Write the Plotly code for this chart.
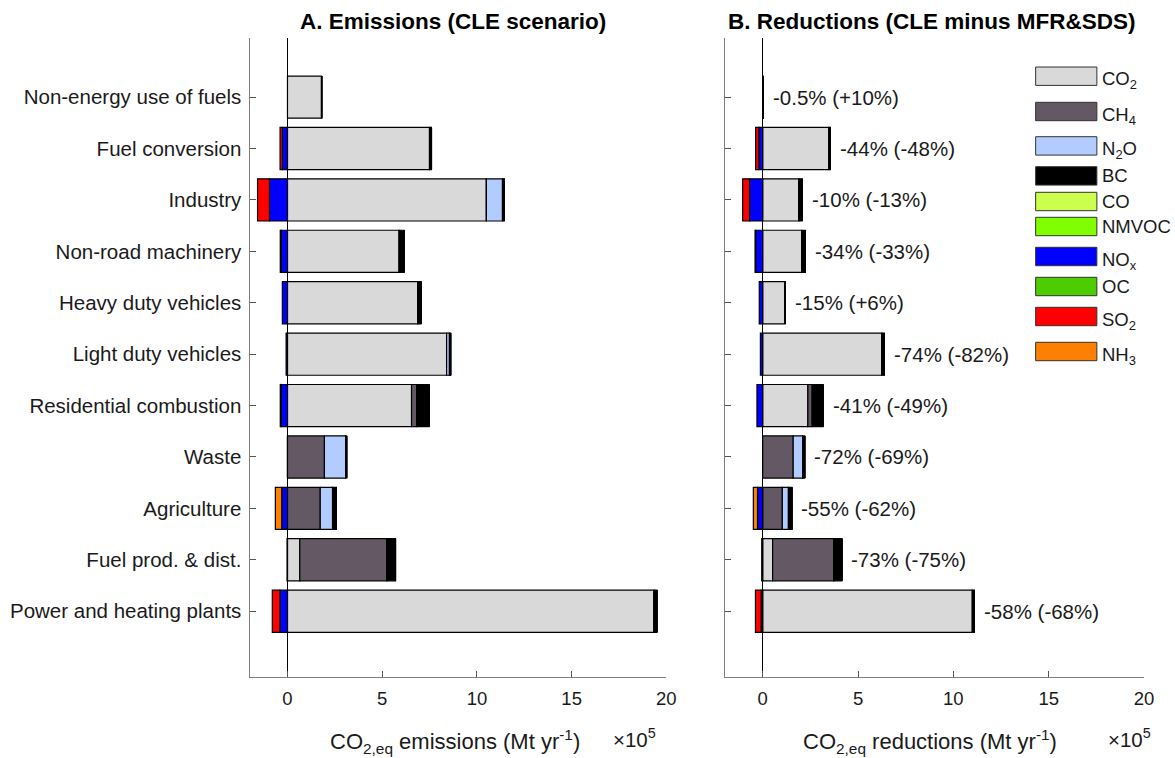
import plotly.graph_objects as go

W, H = 1175, 758

# categories bottom -> top
categories = ["Power and heating plants", "Fuel prod. & dist.", "Agriculture", "Waste",
              "Residential combustion", "Light duty vehicles", "Heavy duty vehicles",
              "Non-road machinery", "Industry", "Fuel conversion", "Non-energy use of fuels"]

species = ["CO2", "CH4", "N2O", "BC", "CO", "NMVOC", "NOx", "OC", "SO2", "NH3"]
species_labels = ["CO<sub>2</sub>", "CH<sub>4</sub>", "N<sub>2</sub>O", "BC", "CO", "NMVOC",
                  "NO<sub>x</sub>", "OC", "SO<sub>2</sub>", "NH<sub>3</sub>"]
colors = ["#d9d9d9", "#635863", "#b3ccff", "#000000", "#ccff4d", "#80ff00",
          "#0000ff", "#4dcc00", "#ff0000", "#ff8000"]

# Panel A: emissions (CLE), units 1e5 Mt/yr, order = categories
A_CO2 = [19.35, 0.65, 0.0, 0.0, 6.55, 8.40, 6.88, 5.90, 10.50, 7.50, 1.80]
A_CH4 = [0.0, 4.60, 1.73, 1.95, 0.27, 0.0, 0.0, 0.0, 0.0, 0.0, 0.0]
A_N2O = [0.0, 0.0, 0.65, 1.12, 0.0, 0.15, 0.0, 0.0, 0.85, 0.0, 0.0]
A_BC = [0.15, 0.45, 0.20, 0.05, 0.65, 0.06, 0.17, 0.25, 0.10, 0.10, 0.0]
A_CO = [0.0] * 11
A_NMVOC = [0.0] * 11
A_NOx = [-0.40, 0.0, -0.30, 0.0, -0.33, -0.07, -0.27, -0.33, -0.95, -0.27, 0.0]
A_OC = [0.0] * 11
A_SO2 = [-0.40, -0.02, 0.0, 0.0, -0.05, 0.0, 0.0, -0.05, -0.63, -0.12, 0.0]
A_NH3 = [0.0, 0.0, -0.34, 0.0, 0.0, 0.0, 0.0, 0.0, 0.0, 0.0, 0.0]

# Panel B: reductions (CLE minus MFR&SDS)
B_CO2 = [11.00, 0.52, 0.0, 0.0, 2.37, 6.25, 1.18, 2.05, 1.90, 3.48, 0.03]
B_CH4 = [0.0, 3.21, 1.03, 1.60, 0.23, 0.0, 0.0, 0.0, 0.0, 0.0, 0.0]
B_N2O = [0.0, 0.0, 0.32, 0.50, 0.0, 0.0, 0.0, 0.0, 0.0, 0.0, 0.0]
B_BC = [0.10, 0.42, 0.18, 0.10, 0.56, 0.13, 0.0, 0.18, 0.17, 0.07, 0.0]
B_CO = [0.0] * 11
B_NMVOC = [0.0] * 11
B_NOx = [-0.08, -0.05, -0.27, 0.0, -0.30, -0.12, -0.18, -0.37, -0.69, -0.20, 0.0]
B_OC = [0.0] * 11
B_SO2 = [-0.30, 0.0, 0.0, 0.0, 0.0, 0.0, 0.0, -0.03, -0.36, -0.17, 0.0]
B_NH3 = [0.0, 0.0, -0.22, 0.0, 0.0, 0.0, 0.0, 0.0, 0.0, 0.0, 0.0]

B_labels = ["-58% (-68%)", "-73% (-75%)", "-55% (-62%)", "-72% (-69%)", "-41% (-49%)",
            "-74% (-82%)", "-15% (+6%)", "-34% (-33%)", "-10% (-13%)", "-44% (-48%)",
            "-0.5% (+10%)"]

x_ticks = [0, 5, 10, 15, 20]

A_data = [A_CO2, A_CH4, A_N2O, A_BC, A_CO, A_NMVOC, A_NOx, A_OC, A_SO2, A_NH3]
B_data = [B_CO2, B_CH4, B_N2O, B_BC, B_CO, B_NMVOC, B_NOx, B_OC, B_SO2, B_NH3]

FONT = "Liberation Sans, Arial, sans-serif"
TXT = "#1a1a1a"

def px(x):
    # horizontal pixel position -> paper fraction (with small empirical correction)
    return ((x - 2) / 0.988) / W

def py(y):
    return 1 - y / H

fig = go.Figure()
for i, sp in enumerate(species):
    fig.add_trace(go.Bar(y=categories, x=A_data[i], orientation="h", name=sp,
                         marker=dict(color=colors[i], line=dict(color="black", width=1.2)),
                         width=0.82, xaxis="x", yaxis="y", showlegend=False))
    fig.add_trace(go.Bar(y=categories, x=B_data[i], orientation="h", name=sp,
                         marker=dict(color=colors[i], line=dict(color="black", width=1.2)),
                         width=0.82, xaxis="x2", yaxis="y2", showlegend=False))

ydom = [py(677), py(38)]
yrange = [-1.28, 11.15]
axis_common = dict(showline=True, linecolor="#7f7f7f", linewidth=1.3, ticks="inside",
                   ticklen=6, tickcolor="#555555", showgrid=False,
                   tickfont=dict(family=FONT, size=18.5, color=TXT))
xcommon = dict(axis_common, range=[-2, 20], tickvals=x_ticks, zeroline=True,
               zerolinecolor="black", zerolinewidth=1, ticklabelstandoff=5)

fig.update_layout(
    width=W, height=H, margin=dict(l=0, r=0, t=0, b=0),
    paper_bgcolor="white", plot_bgcolor="white", barmode="relative",
    xaxis=dict(xcommon, domain=[px(250.7), px(666)], anchor="y"),
    xaxis2=dict(xcommon, domain=[px(724), px(1142)], anchor="y2"),
    yaxis=dict(axis_common, domain=ydom, range=yrange, type="category",
               categoryorder="array", categoryarray=categories, anchor="x",
               tickfont=dict(family=FONT, size=20.5, color=TXT), ticklabelstandoff=3),
    yaxis2=dict(axis_common, domain=ydom, range=yrange, type="category",
                categoryorder="array", categoryarray=categories, anchor="x2",
                showticklabels=False),
)

ann = []
# Percent labels in panel B
for i, cat in enumerate(categories):
    pos = sum(max(d[i], 0) for d in B_data)
    ann.append(dict(x=pos + 0.4, y=cat, xref="x2", yref="y2", text=B_labels[i],
                    xanchor="left", yanchor="middle", showarrow=False,
                    font=dict(family=FONT, size=20.5, color=TXT)))

# Titles
ann.append(dict(x=px(453), y=py(22), xref="paper", yref="paper",
                text="<b>A. Emissions (CLE scenario)</b>", showarrow=False,
                xanchor="center", yanchor="middle", font=dict(family=FONT, size=22.5, color="black")))
ann.append(dict(x=px(931), y=py(22), xref="paper", yref="paper",
                text="<b>B. Reductions (CLE minus MFR&SDS)</b>", showarrow=False,
                xanchor="center", yanchor="middle", font=dict(family=FONT, size=22.5, color="black")))

# Axis titles
ann.append(dict(x=px(455), y=py(741), xref="paper", yref="paper",
                text="CO<sub>2,eq</sub> emissions (Mt yr<sup>-1</sup>)", showarrow=False,
                xanchor="center", yanchor="middle", font=dict(family=FONT, size=22, color=TXT)))
ann.append(dict(x=px(929), y=py(741), xref="paper", yref="paper",
                text="CO<sub>2,eq</sub> reductions (Mt yr<sup>-1</sup>)", showarrow=False,
                xanchor="center", yanchor="middle", font=dict(family=FONT, size=22, color=TXT)))
ann.append(dict(x=px(611), y=py(738), xref="paper", yref="paper",
                text="\u00d710<sup>5</sup>", showarrow=False,
                xanchor="left", yanchor="middle", font=dict(family=FONT, size=20.5, color=TXT)))
ann.append(dict(x=px(1104), y=py(738), xref="paper", yref="paper",
                text="\u00d710<sup>5</sup>", showarrow=False,
                xanchor="left", yanchor="middle", font=dict(family=FONT, size=20.5, color=TXT)))

# Custom legend
leg_tops = [67, 102.3, 136.7, 166.7, 192.3, 217.3, 247.3, 277.3, 307.3, 342.3]
shapes = []
for i, sp in enumerate(species):
    t = leg_tops[i]
    shapes.append(dict(type="rect", xref="paper", yref="paper",
                       x0=px(1034), x1=px(1095), y0=py(t + 18.4), y1=py(t),
                       fillcolor=colors[i], line=dict(color="#333333", width=1)))
    has_sub = "<sub>" in species_labels[i]
    ann.append(dict(x=px(1098), y=py(t + 9.2 + (4 if has_sub else 0)), xref="paper", yref="paper",
                    text=species_labels[i], showarrow=False, xanchor="left", yanchor="middle",
                    font=dict(family=FONT, size=18.5, color=TXT)))

fig.update_layout(annotations=ann, shapes=shapes)
fig.write_html("out.html", config={"displayModeBar": False},
               post_script="document.body.style.margin='0';"
                           "document.documentElement.style.overflow='hidden';")
